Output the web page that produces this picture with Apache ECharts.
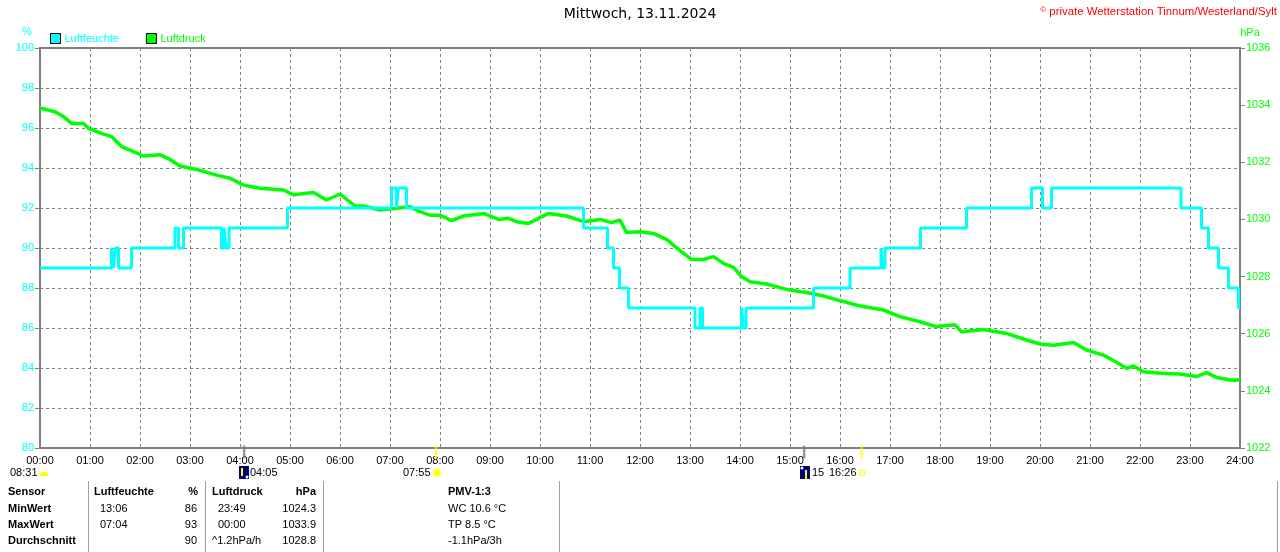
<!DOCTYPE html>
<html>
<head>
<meta charset="utf-8">
<script src="https://cdn.jsdelivr.net/npm/echarts/dist/echarts.min.js"></script>
<style>html,body{margin:0;padding:0;background:#fff}#c{width:1280px;height:552px}</style>
</head>
<body>
<div id="c"></div>
<script>
// ---- data ----
const titleText = 'Mittwoch, 13.11.2024';
const copyright = 'private Wetterstation Tinnum/Westerland/Sylt';
const humTimes  = [0,1.43,1.47,1.51,1.57,1.83,2.70,2.77,2.87,3.63,3.68,3.72,3.78,4.95,7.03,7.13,7.17,7.33,10.87,11.35,11.47,11.59,11.77,13.10,13.20,13.25,14.03,14.07,14.12,15.47,16.20,16.82,16.85,16.90,17.61,18.53,19.83,20.05,20.23,22.82,23.23,23.37,23.57,23.77,23.97,24];
const humValues = [89,90,89,90,89,90,91,90,91,90,91,90,91,92,93,92,93,92,91,90,89,88,87,86,87,86,87,86,87,88,89,90,89,90,91,92,93,92,93,92,91,90,89,88,87,87];
const presTimes  = [0,0.3,0.47,0.63,0.87,0.97,1.23,1.43,1.63,1.87,2.07,2.4,2.6,2.8,3.13,3.53,3.8,4.07,4.4,4.87,5.07,5.47,5.73,6.0,6.3,6.47,6.8,7.13,7.4,7.6,7.8,8.0,8.23,8.47,8.87,9.17,9.37,9.53,9.77,10.17,10.53,10.87,11.2,11.43,11.6,11.73,12.0,12.27,12.53,12.8,13.03,13.27,13.47,13.67,13.87,14.03,14.2,14.53,14.93,15.33,15.67,16.0,16.4,16.87,17.2,17.6,17.93,18.3,18.43,18.87,19.33,19.73,20.0,20.27,20.67,20.93,21.27,21.47,21.73,21.87,22.07,22.47,22.8,23.13,23.33,23.53,23.87,24];
const presValues = [1033.9,1033.77,1033.6,1033.36,1033.36,1033.19,1033.01,1032.9,1032.55,1032.37,1032.22,1032.26,1032.1,1031.87,1031.75,1031.55,1031.44,1031.2,1031.09,1031.03,1030.86,1030.94,1030.68,1030.89,1030.47,1030.47,1030.33,1030.39,1030.45,1030.27,1030.15,1030.15,1029.96,1030.12,1030.21,1030.0,1030.04,1029.92,1029.86,1030.21,1030.12,1029.92,1030.0,1029.89,1029.98,1029.54,1029.57,1029.51,1029.3,1028.91,1028.6,1028.6,1028.7,1028.46,1028.32,1028.0,1027.82,1027.74,1027.55,1027.44,1027.32,1027.16,1026.97,1026.83,1026.6,1026.42,1026.25,1026.31,1026.07,1026.15,1026.01,1025.78,1025.64,1025.6,1025.69,1025.43,1025.25,1025.06,1024.79,1024.87,1024.67,1024.61,1024.59,1024.5,1024.64,1024.47,1024.36,1024.4];
const moonTimes = [4.083, 15.283];
const sunTimes  = [7.917, 16.433];
const tableHeader = ['Sensor','Luftfeuchte','%','Luftdruck','hPa','PMV-1:3'];
const rowNames  = ['MinWert','MaxWert','Durchschnitt'];
const humTime   = ['13:06','07:04',''];
const humVal    = ['86','93','90'];
const presTime  = ['23:49','00:00','^1.2hPa/h'];
const presVal   = ['1024.3','1033.9','1028.8'];
const pmvText   = ['WC 10.6 °C','TP 8.5 °C','-1.1hPa/3h'];
const astroLabels = ['08:31','04:05','07:55','15','16:26'];

// ---- chart ----
const F = '"Liberation Sans", Arial, sans-serif';
const chart = echarts.init(document.getElementById('c'), null, {renderer:'canvas'});
const hum = humTimes.map((t,i)=>[t,humValues[i]]);
const pres = presTimes.map((t,i)=>[t,presValues[i]]);
const pad = v => (v<10?'0':'')+v+':00';

function T(x,y,text,o){o=o||{};return {type:'text',x:x,y:y,z:100,silent:true,style:{text:text,fill:o.c||'#000',font:(o.b?'bold ':'')+(o.s||11)+'px '+F,textAlign:o.a||'left',textVerticalAlign:'middle'}};}
function L(x1,y1,x2,y2,c,w){return {type:'line',z:100,silent:true,shape:{x1:x1,y1:y1,x2:x2,y2:y2},style:{stroke:c,lineWidth:w||1}};}

const g = [];
g.push(T(27,32,'%',{c:'#00ffff',a:'center'}));
g.push(T(1250,33,'hPa',{c:'#00ff00',a:'center'}));
g.push({type:'text',x:1277,y:12,z:100,silent:true,style:{text:'{c|©} '+copyright,fill:'#ff0000',font:'11.4px '+F,textAlign:'right',textVerticalAlign:'middle',rich:{c:{fontSize:8,fill:'#ff0000',padding:[0,0,5,0]}}}});
// astro annotations
g.push(T(10,473,astroLabels[0]));
g.push({type:'sector',z:100,silent:true,shape:{cx:44,cy:476,r:4.5,r0:0,startAngle:Math.PI,endAngle:2*Math.PI},style:{fill:'#ffff00'}});
g.push({type:'rect',z:100,silent:true,shape:{x:239,y:466,width:10,height:13},style:{fill:'#000080'}});
g.push(L(242,468,242,476,'#ffff00',2));
g.push({type:'circle',z:100,silent:true,shape:{cx:247,cy:477,r:1.5},style:{fill:'#fff'}});
g.push(T(250,473,astroLabels[1]));
g.push(T(403,473,astroLabels[2]));
g.push({type:'circle',z:100,silent:true,shape:{cx:437,cy:473,r:4},style:{fill:'#ffff00',stroke:'#ffffa0',lineWidth:2}});
g.push({type:'rect',z:100,silent:true,shape:{x:800,y:466,width:10,height:13},style:{fill:'#000080'}});
g.push({type:'circle',z:100,silent:true,shape:{cx:802,cy:468,r:1.5},style:{fill:'#fff'}});
g.push(L(806,470,806,479,'#ffff00',2));
g.push(T(812,473,astroLabels[3]));
g.push(T(829,473,astroLabels[4]));
g.push({type:'rect',z:100,silent:true,shape:{x:859.5,y:470.5,width:5,height:5},style:{fill:'none',stroke:'#ffff00',lineWidth:1}});
// table
const rowsY = [509,525,541];
g.push(T(8,492,tableHeader[0],{b:1}));
g.push(T(94,492,tableHeader[1],{b:1}));
g.push(T(198,492,tableHeader[2],{b:1,a:'right'}));
g.push(T(212,492,tableHeader[3],{b:1}));
g.push(T(316,492,tableHeader[4],{b:1,a:'right'}));
g.push(T(448,492,tableHeader[5],{b:1}));
rowNames.forEach((n,i)=>{
  const y = rowsY[i];
  g.push(T(8,y,n,{b:1}));
  g.push(T(100,y,humTime[i]));
  g.push(T(197,y,humVal[i],{a:'right'}));
  g.push(T(i===2?212:218,y,presTime[i]));
  g.push(T(316,y,presVal[i],{a:'right'}));
  g.push(T(448,y,pmvText[i]));
});
[88,205,323,559,1277].forEach(x=>g.push(L(x+0.5,481,x+0.5,552,'#a0a0a0',1)));

const option = {
  animation:false,
  backgroundColor:'#ffffff',
  textStyle:{fontFamily:F},
  title:{text:titleText,left:'center',top:2,textStyle:{fontSize:14,fontWeight:'normal',color:'#000',fontFamily:'"DejaVu Sans", sans-serif'}},
  legend:{left:45,top:28,itemWidth:10,itemHeight:10,itemGap:27,icon:'rect',
    itemStyle:{borderColor:'#000',borderWidth:1},
    textStyle:{fontSize:11,fontFamily:F,padding:[0,0,0,-1]},
    data:[{name:'Luftfeuchte',textStyle:{color:'#00ffff'}},{name:'Luftdruck',textStyle:{color:'#00ff00'}}]},
  grid:{left:40,right:40,top:48,bottom:104,show:true,borderColor:'#808080',borderWidth:2,outerBoundsMode:'none',containLabel:false},
  xAxis:{type:'value',min:0,max:24,interval:1,
    axisLine:{lineStyle:{color:'#808080',width:2}},axisTick:{show:false},
    axisLabel:{formatter:pad,color:'#000',fontSize:11,fontFamily:F,margin:7,showMinLabel:true,showMaxLabel:true},
    splitLine:{show:true,lineStyle:{color:'#808080',type:[3,3],width:1}}},
  yAxis:[
    {type:'value',min:80,max:100,interval:2,position:'left',
     axisLine:{show:true,lineStyle:{color:'#808080',width:2}},
     axisTick:{show:true,length:5,lineStyle:{color:'#808080'}},
     axisLabel:{color:'#00ffff',fontSize:11,fontFamily:F,margin:6,formatter:v=>String(v)},
     splitLine:{show:true,lineStyle:{color:'#808080',type:[3,3],width:1}}},
    {type:'value',min:1022,max:1036,interval:2,position:'right',
     axisLine:{show:true,lineStyle:{color:'#808080',width:2}},
     axisTick:{show:true,length:5,lineStyle:{color:'#808080'}},
     axisLabel:{color:'#00ff00',fontSize:11,fontFamily:F,margin:6,formatter:v=>String(v)},
     splitLine:{show:false}}
  ],
  series:[
    {name:'Luftfeuchte',type:'line',step:'end',yAxisIndex:0,data:hum,showSymbol:false,symbol:'none',
     lineStyle:{color:'#00ffff',width:3},itemStyle:{color:'#00ffff'},z:3},
    {name:'Luftdruck',type:'line',yAxisIndex:1,data:pres,showSymbol:false,symbol:'none',
     lineStyle:{color:'#00ff00',width:3.5},itemStyle:{color:'#00ff00'},z:2},
    {name:'moon',type:'scatter',yAxisIndex:0,data:moonTimes.map(t=>[t,80]),symbol:'rect',symbolSize:[2.5,13],symbolOffset:[0,4],
     itemStyle:{color:'#808080'},silent:true,z:5,clip:false},
    {name:'sun',type:'scatter',yAxisIndex:0,data:sunTimes.map(t=>[t,80]),symbol:'rect',symbolSize:[2,14],symbolOffset:[0,4],
     itemStyle:{color:'#ffff00'},silent:true,z:5,clip:false}
  ],
  graphic:g
};
chart.setOption(option);
</script>
</body>
</html>
